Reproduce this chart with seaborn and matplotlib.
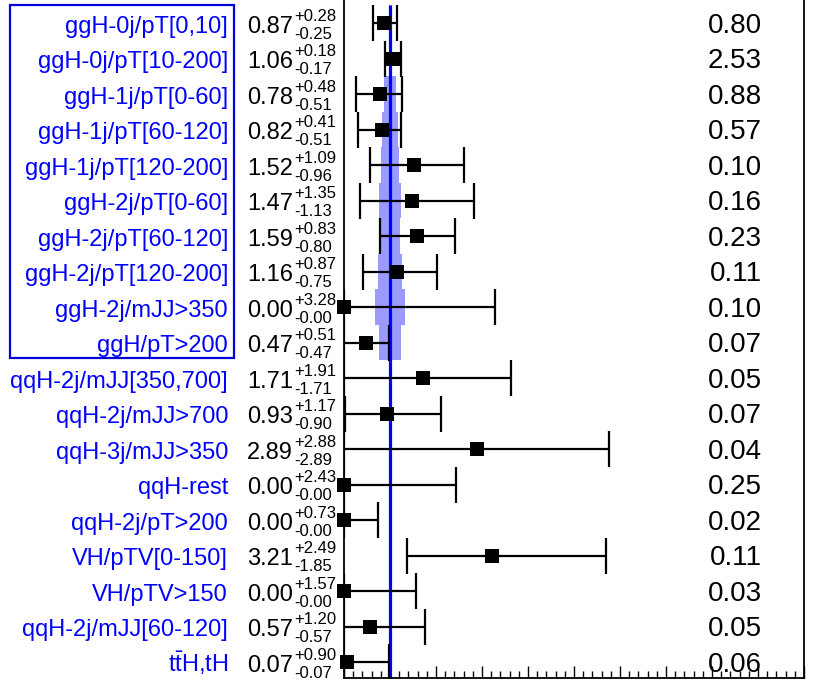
import matplotlib
matplotlib.use("Agg")
import matplotlib.pyplot as plt
import matplotlib.transforms as mtransforms
from matplotlib.patches import Rectangle
import seaborn as sns
import pandas as pd

# ---------------- data ----------------
categories = [
    "ggH-0j/pT[0,10]", "ggH-0j/pT[10-200]", "ggH-1j/pT[0-60]", "ggH-1j/pT[60-120]",
    "ggH-1j/pT[120-200]", "ggH-2j/pT[0-60]", "ggH-2j/pT[60-120]", "ggH-2j/pT[120-200]",
    "ggH-2j/mJJ>350", "ggH/pT>200", "qqH-2j/mJJ[350,700]", "qqH-2j/mJJ>700",
    "qqH-3j/mJJ>350", "qqH-rest", "qqH-2j/pT>200", "VH/pTV[0-150]", "VH/pTV>150",
    "qqH-2j/mJJ[60-120]", r"t$\mathregular{\bar{t}}$H,tH",
]
mu = [0.87, 1.06, 0.78, 0.82, 1.52, 1.47, 1.59, 1.16, 0.00, 0.47,
      1.71, 0.93, 2.89, 0.00, 0.00, 3.21, 0.00, 0.57, 0.07]
err_up = [0.28, 0.18, 0.48, 0.41, 1.09, 1.35, 0.83, 0.87, 3.28, 0.51,
          1.91, 1.17, 2.88, 2.43, 0.73, 2.49, 1.57, 1.20, 0.90]
err_dn = [0.25, 0.17, 0.51, 0.51, 0.96, 1.13, 0.80, 0.75, 0.00, 0.47,
          1.71, 0.90, 2.89, 0.00, 0.00, 1.85, 0.00, 0.57, 0.07]
right_values = ["0.80", "2.53", "0.88", "0.57", "0.10", "0.16", "0.23", "0.11", "0.10", "0.07",
                "0.05", "0.07", "0.04", "0.25", "0.02", "0.11", "0.03", "0.05", "0.06"]
# theory-uncertainty band half widths for the ggH bins
band_half = [0.03, 0.03, 0.14, 0.17, 0.20, 0.24, 0.22, 0.27, 0.32, 0.24]

# ---------------- style ----------------
sns.set_theme(style="white")
plt.rcParams["font.family"] = ["Liberation Sans", "DejaVu Sans"]
plt.rcParams["mathtext.fontset"] = "custom"
plt.rcParams["mathtext.rm"] = "Liberation Sans"
plt.rcParams["mathtext.it"] = "Liberation Sans:italic"
plt.rcParams["mathtext.bf"] = "Liberation Sans:bold"

W, H = 827, 685
fig = plt.figure(figsize=(W / 100, H / 100), dpi=100)
ax = fig.add_axes([344 / W, 7 / H, (804 - 344) / W, 678 / H])

rows = list(range(len(categories)))
df = pd.DataFrame({"mu": mu, "row": rows})

BLUE = "#0000ff"

# band
ax.barh(rows[:len(band_half)], [2 * b for b in band_half],
        left=[1 - b for b in band_half], height=1.0,
        color="#9a9aff", edgecolor="none", zorder=1)

# SM line
ax.plot([1, 1], [-0.5, 18.5], color=BLUE, lw=2.3, zorder=2, solid_capstyle="butt")

# error bars
ax.errorbar(mu, rows, xerr=[err_dn, err_up], fmt="none", ecolor="black",
            elinewidth=1.6, capsize=13, capthick=1.6, zorder=3)

# markers
sns.scatterplot(data=df, x="mu", y="row", marker="s", s=100, color="black",
                edgecolor="black", linewidth=0, ax=ax, zorder=4, legend=False,
                clip_on=False)

ax.set_xlim(0, 10)
ax.set_ylim(18.45, -0.648)
ax.set_xlabel("")
ax.set_ylabel("")
ax.set_yticks([])
ax.set_xticks(range(0, 11))
ax.set_xticks([i * 0.2 for i in range(51)], minor=True)
ax.set_xticklabels([])
ax.tick_params(axis="x", which="major", direction="in", length=9, width=1,
               bottom=True, top=False, color="black")
ax.tick_params(axis="x", which="minor", direction="in", length=5, width=1,
               bottom=True, top=False, color="black")
for side in ["left", "right", "bottom"]:
    ax.spines[side].set_visible(True)
    ax.spines[side].set_color("black")
    ax.spines[side].set_linewidth(1.3)
ax.spines["top"].set_visible(False)

# texts
tr = mtransforms.blended_transform_factory(fig.transFigure, ax.transData)
base_off = 9.5 / 35.5
for i, (lab, m, u, d, rv) in enumerate(zip(categories, mu, err_up, err_dn, right_values)):
    yb = i + base_off
    fig.text(228 / W, yb, lab, transform=tr, ha="right", va="baseline",
             fontsize=17, color=BLUE)
    main = fig.text(247 / W, yb, f"{m:.2f}", transform=tr, ha="left", va="baseline",
                    fontsize=17, color="black")
    ax.annotate(f"+{u:.2f}", xy=(1, yb), xycoords=(main, ax.transData),
                xytext=(1, 12), textcoords="offset pixels", ha="left", va="baseline",
                fontsize=12, color="black", annotation_clip=False)
    ax.annotate(f"-{d:.2f}", xy=(1, yb), xycoords=(main, ax.transData),
                xytext=(1, -6), textcoords="offset pixels", ha="left", va="baseline",
                fontsize=12, color="black", annotation_clip=False)
    fig.text(762 / W, yb, rv, transform=tr, ha="right", va="baseline",
             fontsize=20, color="black")

# box around ggH labels
fig.patches.append(Rectangle((10 / W, (H - 358) / H), 224 / W, 353 / H,
                             transform=fig.transFigure, fill=False,
                             edgecolor="#0000dd", lw=1.6))

fig.savefig("out.png", dpi=100)
